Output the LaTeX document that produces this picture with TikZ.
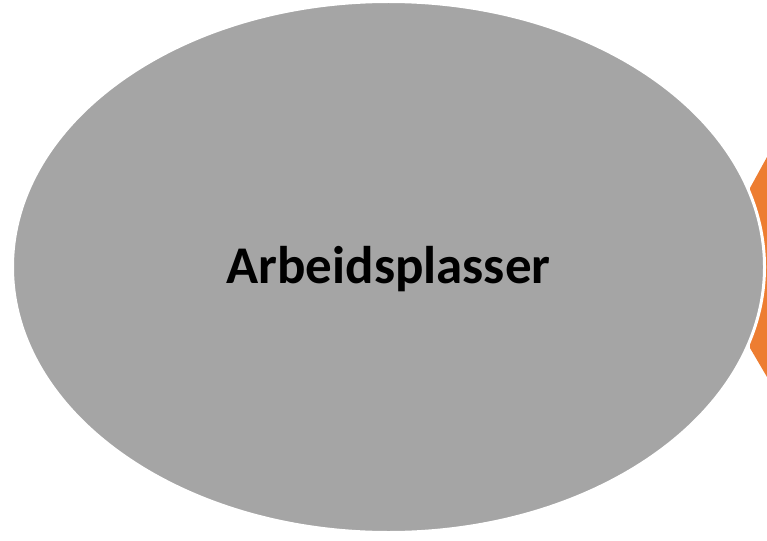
\documentclass[tikz,border=0pt]{standalone}
\usepackage{fontspec}
\setmainfont{Carlito}
\usetikzlibrary{shapes.geometric}
\definecolor{orangeA}{HTML}{ED7D31}
\definecolor{greyA}{HTML}{A5A5A5}
\tikzset{
  blob/.style={ellipse, fill=greyA, draw=white, line width=3pt, minimum width=752pt, minimum height=531pt, inner sep=0pt},
  blobtext/.style={font=\bfseries\fontsize{53}{60}\selectfont, inner sep=0pt}
}
\begin{document}
\begin{tikzpicture}[x=1pt,y=-1pt]
\useasboundingbox (0,0) rectangle (767,540);
\clip (0,0) rectangle (767,540);
\fill[white] (0,0) rectangle (767,540);
\fill[orangeA] (767,157) -- (750,188) -- (750,348) -- (767,377) -- (800,377) -- (800,157) -- cycle;
\node[blob] (arb) at (388.5,267) {};
\node[blobtext] (arbtext) at ([yshift=-2pt]arb.center) {Arbeidsplasser};
\end{tikzpicture}
\end{document}
